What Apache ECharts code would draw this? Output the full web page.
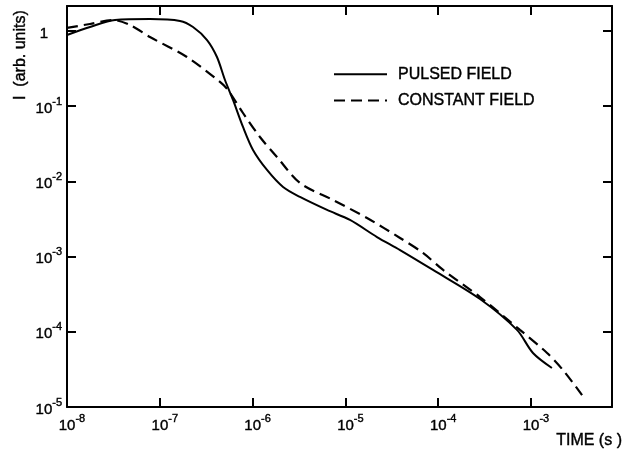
<!DOCTYPE html>
<html>
<head>
<meta charset="utf-8">
<script src="https://cdn.jsdelivr.net/npm/echarts@6/dist/echarts.min.js"></script>
<style>
  html, body { margin: 0; padding: 0; background: #fff; }
  #main { width: 626px; height: 454px; }
</style>
</head>
<body>
<div id="main"></div>
<script>
// time (s) and intensity (arb. units)
var pulsedT = [1e-8, 1.77e-8, 3.29e-8, 7.83e-8, 1.65e-7, 2.28e-7, 3.23e-7, 4.13e-7, 5.04e-7, 6.15e-7,
  7.88e-7, 1.01e-6, 1.43e-6, 2.13e-6, 3.24e-6, 6.34e-6, 1.12e-5, 2.19e-5, 3.88e-5, 8.79e-5,
  2.82e-4, 7.06e-4, 1.05e-3, 1.68e-3];
var pulsedI = [0.885, 1.13, 1.40, 1.44, 1.36, 1.13, 0.759, 0.451, 0.223, 0.121,
  0.0529, 0.0262, 0.0142, 0.00843, 0.00621, 0.00417, 0.00307, 0.00182, 0.00122, 6.64e-4,
  2.73e-4, 1.06e-4, 5.23e-5, 3.30e-5];

var constT = [1e-8, 1.77e-8, 3.13e-8, 4.78e-8, 7.83e-8, 1.96e-7, 4.45e-7, 5.43e-7, 7.88e-7, 1.20e-6,
  1.83e-6, 3.24e-6, 7.35e-6, 1.71e-5, 3.88e-5, 6.85e-5, 1.13e-4, 2.82e-4, 7.60e-4, 1.49e-3,
  2.21e-3, 3.55e-3];
var constI = [1.10, 1.24, 1.40, 1.20, 0.832, 0.451, 0.210, 0.164, 0.0812, 0.0389,
  0.0211, 0.00952, 0.00566, 0.00326, 0.00177, 0.00112, 6.64e-4, 2.90e-4, 1.06e-4, 5.23e-5,
  3.10e-5, 1.44e-5];

var seriesNames = ['PULSED FIELD', 'CONSTANT FIELD'];
var xTitle = 'TIME (s )';
var yTitle = 'I  (arb. units)';

var narrow = '"Liberation Sans Narrow", "Liberation Sans", sans-serif';
var digits = '"Liberation Sans", sans-serif';

function pairs(t, v) {
  var out = [];
  for (var i = 0; i < t.length; i++) out.push([t[i], v[i]]);
  return out;
}

function exponentOf(v) {
  var e = Math.log10(v);
  var r = Math.round(e);
  return Math.abs(e - r) > 1e-6 ? null : r;
}

function yLabel(v) {
  var r = exponentOf(v);
  if (r === null) return '';
  if (r === 0) return '{b|1}{sp|}';
  return '{b|10}{e|' + r + '}';
}

// leading spacer keeps the "10" centred on its tick
function xLabel(v) {
  var r = exponentOf(v);
  if (r === null) return '';
  return '{lp|}{b|10}{e|' + r + '}';
}

var inkText = { textBorderColor: '#000', textBorderWidth: 0.4 };

var richLabel = {
  b: Object.assign({ fontSize: 15, fontFamily: digits, color: '#000', verticalAlign: 'bottom', lineHeight: 20 }, inkText),
  e: Object.assign({ fontSize: 11, fontFamily: digits, color: '#000', verticalAlign: 'top', lineHeight: 20 }, inkText),
  sp: { width: 14 },
  lp: { width: 10 }
};

var myChart = echarts.init(document.getElementById('main'));

var frameX = {
  type: 'log', min: 1e-8, max: 7.46e-3, interval: 1,
  axisLine: { show: true, lineStyle: { color: '#000', width: 2 } },
  axisTick: { show: true, inside: true, length: 9, lineStyle: { color: '#000', width: 2 } },
  splitLine: { show: false },
  minorTick: { show: false }
};
var frameY = {
  type: 'log', min: 1e-5, max: 2.15, interval: 1,
  axisLine: { show: true, lineStyle: { color: '#000', width: 2 } },
  axisTick: { show: true, inside: true, length: 9, lineStyle: { color: '#000', width: 2 } },
  splitLine: { show: false },
  minorTick: { show: false }
};

var option = {
  backgroundColor: '#fff',
  animation: false,
  grid: { left: 67, right: 14, top: 6, bottom: 47 },
  legend: {
    orient: 'vertical',
    left: 333,
    top: 66,
    padding: 0,
    itemWidth: 53,
    itemHeight: 14,
    itemGap: 10,
    itemStyle: { opacity: 0 },
    textStyle: Object.assign({ fontSize: 16, fontFamily: narrow, color: '#000', padding: [0, 0, 0, 6] }, inkText),
    data: seriesNames
  },
  xAxis: [
    Object.assign({}, frameX, {
      position: 'bottom',
      axisLabel: {
        show: true, margin: 6, showMaxLabel: false,
        formatter: xLabel, rich: richLabel
      }
    }),
    Object.assign({}, frameX, { position: 'top', axisLabel: { show: false } })
  ],
  yAxis: [
    Object.assign({}, frameY, {
      position: 'left',
      axisLabel: {
        show: true, margin: 5, showMaxLabel: false,
        formatter: yLabel, rich: richLabel
      }
    }),
    Object.assign({}, frameY, { position: 'right', axisLabel: { show: false } })
  ],
  graphic: [
    {
      type: 'text', left: 556, top: 432,
      style: { text: xTitle, fontSize: 16, fontFamily: narrow, fill: '#000', stroke: '#000', lineWidth: 0.4 }
    },
    {
      type: 'text', x: 13, y: 100, rotation: Math.PI / 2,
      style: { text: yTitle, fontSize: 16, fontFamily: narrow, fill: '#000', stroke: '#000', lineWidth: 0.4 }
    }
  ],
  series: [
    {
      name: seriesNames[0],
      type: 'line',
      smooth: 0.3,
      symbol: 'none',
      lineStyle: { color: '#000', width: 2 },
      itemStyle: { color: '#000' },
      data: pairs(pulsedT, pulsedI)
    },
    {
      name: seriesNames[1],
      type: 'line',
      smooth: 0.3,
      symbol: 'none',
      lineStyle: { color: '#000', width: 2.2, type: [11, 6] },
      itemStyle: { color: '#000' },
      data: pairs(constT, constI)
    }
  ]
};

myChart.setOption(option);
</script>
</body>
</html>
